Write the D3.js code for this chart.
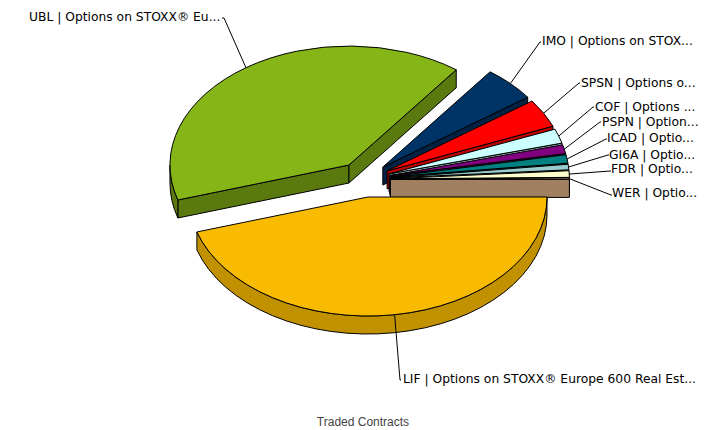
<!DOCTYPE html>
<html>
<head>
<meta charset="utf-8">
<script src="https://cdn.jsdelivr.net/npm/d3@7/dist/d3.min.js"></script>
<style>
html,body{margin:0;padding:0;background:#fff}
svg{display:block}
</style>
</head>
<body>
<div id="chart"></div>
<script>
// Data (share of traded contracts, %; drawing order starts at 3 o'clock, clockwise)
const categories = ["LIF","UBL","IMO","SPSN","COF","PSPN","ICAD","GI6A","FDR","WER"];
const shares = [45.25,39.97,4.78,3.86,1.97,1.19,1.14,0.75,0.89,0.19];
const labels = [
  "LIF | Options on STOXX® Europe 600 Real Est...",
  "UBL | Options on STOXX® Eu...",
  "IMO | Options on STOX...",
  "SPSN | Options o...",
  "COF | Options ...",
  "PSPN | Option...",
  "ICAD | Optio...",
  "GI6A | Optio...",
  "FDR | Optio...",
  "WER | Optio..."
];
const topColors = ["#F8BB00","#85B516","#003366","#FF0000","#CCFFFF","#800080","#008080","#99CCCC","#FFFFCC","#D5AB80"];
const sideColors = ["#C19100","#5A7A0F","#002244","#BF0000","#99BFBF","#600060","#006060","#739999","#BFBF99","#A08060"];
// Label layout: the elbow end of each leader line
const elbowX = [400,224,540,579,593,600,606,608,610,611];
const elbowY = [380,18,42,83,107,122,139,155,171,195];
const textX  = [403,29,542,581,595,602,607,609,611,612];
const textY  = [379,17,41,83,107,122,138,155,169,193];

const W = 718, H = 430;
const cx = 364.1, cy = 179.5, rx = 179, ry = 119, depth = 18, ex = 26.3, ey = 17.7;
const svg = d3.select("#chart").append("svg").attr("width",W).attr("height",H);

const pie = d3.pie().sort(null).value(d => d)(shares);
const order = [1,2,3,4,5,6,7,8,9,0];
const TAU = 2*Math.PI, PI = Math.PI;

function pt(c,a,dz=0){ return [c[0]+rx*Math.cos(a), c[1]+ry*Math.sin(a)+dz]; }
function arcTo(p,a0,a1){ // clockwise on screen when a1>a0, counter otherwise
  const large = Math.abs(a1-a0)>PI?1:0, sw = a1>a0?1:0;
  return `A${rx},${ry} 0 ${large} ${sw} ${p[0]},${p[1]}`;
}

const g = svg.append("g");
order.forEach(i => {
  const s = pie[i], a0 = s.startAngle, a1 = s.endAngle, mid = (a0+a1)/2;
  const c = [cx+ex*Math.cos(mid), cy+ey*Math.sin(mid)];
  const slice = g.append("g").attr("class","slice").attr("data-cat",categories[i]);
  const wall = d => slice.append("path").attr("d",d).attr("fill",sideColors[i])
      .attr("stroke","#000").attr("stroke-width",1).attr("stroke-linejoin","round");
  const plane = a => { const p = pt(c,a);
      return `M${c[0]},${c[1]}L${p[0]},${p[1]}L${p[0]},${p[1]+depth}L${c[0]},${c[1]+depth}Z`; };
  // radial walls facing the viewer
  if (-Math.cos(a0) > 0) wall(plane(a0));
  if (Math.cos(a1) > 0) wall(plane(a1));
  // rim wall on the front half of the ellipse
  [[0,PI],[TAU,TAU+PI]].forEach(([lo,hi]) => {
    const b0 = Math.max(a0,lo), b1 = Math.min(a1,hi);
    if (b1 > b0) {
      const p0 = pt(c,b0), p1 = pt(c,b1), q1 = pt(c,b1,depth), q0 = pt(c,b0,depth);
      wall(`M${p0}${arcTo(p1,b0,b1)}L${q1}${arcTo(q0,b1,b0)}Z`);
    }
  });
  // top face
  const p0 = pt(c,a0), p1 = pt(c,a1);
  slice.append("path")
    .attr("d",`M${c}L${p0}${arcTo(p1,a0,a1)}Z`)
    .attr("fill",topColors[i]).attr("stroke","#000").attr("stroke-width",1).attr("stroke-linejoin","round");
});

// Leader lines and labels
pie.forEach((s,i) => {
  const mid = (s.startAngle+s.endAngle)/2;
  const c = [cx+ex*Math.cos(mid), cy+ey*Math.sin(mid)];
  const p = pt(c,mid);
  const left = i === 1;
  svg.append("path")
    .attr("d",d3.line()([p,[elbowX[i],elbowY[i]],[elbowX[i]+(left?-2:1),elbowY[i]]]))
    .attr("fill","none").attr("stroke","#000").attr("stroke-width",1);
  svg.append("text").attr("x",textX[i]).attr("y",textY[i]).attr("dy","0.35em")
    .attr("font-family","'DejaVu Sans',Verdana,sans-serif").attr("font-size",12.3)
    .attr("fill","#000").text(labels[i]);
});

svg.append("text").attr("x",363).attr("y",422).attr("dy","0.35em").attr("text-anchor","middle")
  .attr("font-family","'Liberation Sans',Arial,sans-serif").attr("font-size",12)
  .attr("fill","#444").text("Traded Contracts");
</script>
</body>
</html>
